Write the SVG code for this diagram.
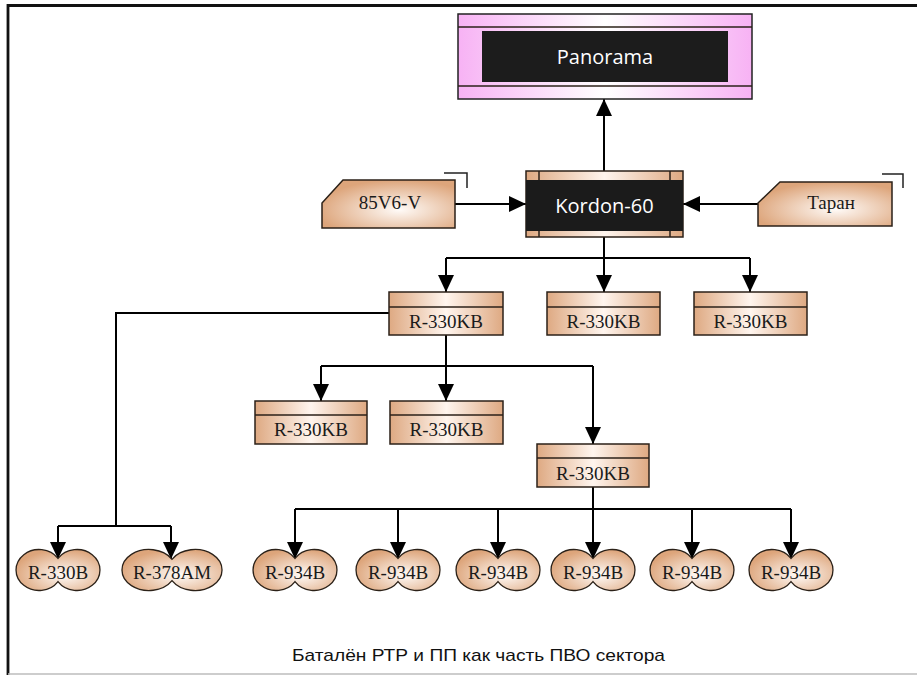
<svg xmlns="http://www.w3.org/2000/svg" width="917" height="675" viewBox="0 0 917 675">
<style>
.lbl{font-family:"Liberation Serif","Times New Roman",serif;font-size:19px;fill:#1a1a1a;text-anchor:middle}
.wlbl{font-family:"Open Sans","Noto Sans",sans-serif;font-size:20px;fill:#ffffff;text-anchor:middle}
.box{fill:url(#tanH);stroke:#2b2118;stroke-width:1.5}
.band{stroke:#2b2118;stroke-width:1.5}
.blob{fill:url(#tanR);stroke:#2b2118;stroke-width:1.3}
.conn{fill:none;stroke:#000;stroke-width:2}
</style>
<defs>
<linearGradient id="tanH" x1="0" y1="0" x2="1" y2="0">
<stop offset="0" stop-color="#dea982"/>
<stop offset="0.5" stop-color="#fff5ee"/>
<stop offset="1" stop-color="#dea982"/>
</linearGradient>
<radialGradient id="tanR" cx="0.58" cy="0.62" r="0.62">
<stop offset="0" stop-color="#fffbf8"/>
<stop offset="1" stop-color="#dda57b"/>
</radialGradient>
<linearGradient id="pinkH" x1="0" y1="0" x2="1" y2="0">
<stop offset="0" stop-color="#f7b2f4"/>
<stop offset="0.5" stop-color="#ffffff"/>
<stop offset="1" stop-color="#f7b2f4"/>
</linearGradient>
<marker id="ah" markerUnits="userSpaceOnUse" markerWidth="18" markerHeight="16" refX="17" refY="8" orient="auto">
<path d="M0,0 L17,8 L0,16 z" fill="#000"/>
</marker>
</defs>
<rect x="0" y="0" width="917" height="675" fill="#ffffff"/>
<g id="frame">
<line x1="7" y1="5.5" x2="917" y2="5.5" stroke="#111" stroke-width="2.8"/>
<line x1="8" y1="4" x2="8" y2="675" stroke="#111" stroke-width="2.8"/>
<line x1="8" y1="674" x2="917" y2="674" stroke="#bdbdbd" stroke-width="1.5"/>
</g>
<g id="connectors">
<path class="conn" d="M604,171 V99" marker-end="url(#ah)"/>
<path class="conn" d="M455,204 H526" marker-end="url(#ah)"/>
<path class="conn" d="M758,204 H683" marker-end="url(#ah)"/>
<path class="conn" d="M604,237 V258 M446,258 H750"/>
<path class="conn" d="M446,258 V292" marker-end="url(#ah)"/>
<path class="conn" d="M604,258 V292" marker-end="url(#ah)"/>
<path class="conn" d="M750,258 V292" marker-end="url(#ah)"/>
<path class="conn" d="M389,313 H116 V526 M58,526 H171"/>
<path class="conn" d="M58,526 V559" marker-end="url(#ah)"/>
<path class="conn" d="M171,526 V559" marker-end="url(#ah)"/>
<path class="conn" d="M446,335 V366 M321,366 H593"/>
<path class="conn" d="M321,366 V401" marker-end="url(#ah)"/>
<path class="conn" d="M446,366 V401" marker-end="url(#ah)"/>
<path class="conn" d="M593,366 V444" marker-end="url(#ah)"/>
<path class="conn" d="M593,487 V509 M295,509 H791"/>
<path class="conn" d="M295,509 V559" marker-end="url(#ah)"/>
<path class="conn" d="M398,509 V559" marker-end="url(#ah)"/>
<path class="conn" d="M498,509 V559" marker-end="url(#ah)"/>
<path class="conn" d="M593,509 V559" marker-end="url(#ah)"/>
<path class="conn" d="M692,509 V559" marker-end="url(#ah)"/>
<path class="conn" d="M791,509 V559" marker-end="url(#ah)"/>
</g>
<g id="panorama">
<rect x="458" y="14" width="294" height="85" fill="url(#pinkH)" stroke="#222" stroke-width="1.5"/>
<line class="band" x1="458" y1="27" x2="752" y2="27"/>
<line class="band" x1="458" y1="86" x2="752" y2="86"/>
<rect x="482" y="31" width="246" height="51" fill="#1c1c1c"/>
<text class="wlbl" x="605" y="64">Panorama</text>
</g>
<g id="kordon">
<rect class="box" x="526" y="171" width="157" height="66"/>
<rect x="526" y="180" width="157" height="51" fill="#1b1b1b"/>
<path class="band" d="M539,171 V180 M670,171 V180 M539,231 V237 M670,231 V237"/>
<text class="wlbl" x="604.5" y="213">Kordon-60</text>
</g>
<g id="n85v6">
<polygon points="343,180 455,180 455,228 322,228 322,203" fill="url(#tanR)" stroke="#2b2118" stroke-width="1.5"/>
<polyline points="444,173 467,173 467,188" fill="none" stroke="#222" stroke-width="1.5"/>
<text class="lbl" x="390" y="209">85V6-V</text>
</g>
<g id="taran">
<polygon points="780,182 892,182 892,226 758,226 758,203" fill="url(#tanR)" stroke="#2b2118" stroke-width="1.5"/>
<polyline points="882,174 903,174 903,188" fill="none" stroke="#222" stroke-width="1.5"/>
<text class="lbl" x="831" y="209">Таран</text>
</g>
<g id="r330kb-1">
<rect class="box" x="389" y="292" width="114" height="43"/>
<line class="band" x1="389" y1="307" x2="503" y2="307"/>
<text class="lbl" x="446" y="328">R-330KB</text>
</g>
<g id="r330kb-2">
<rect class="box" x="547" y="292" width="113" height="43"/>
<line class="band" x1="547" y1="307" x2="660" y2="307"/>
<text class="lbl" x="603.5" y="328">R-330KB</text>
</g>
<g id="r330kb-3">
<rect class="box" x="694" y="292" width="113" height="43"/>
<line class="band" x1="694" y1="307" x2="807" y2="307"/>
<text class="lbl" x="750.5" y="328">R-330KB</text>
</g>
<g id="r330kb-4">
<rect class="box" x="255" y="401" width="112" height="43"/>
<line class="band" x1="255" y1="415" x2="367" y2="415"/>
<text class="lbl" x="311" y="436">R-330KB</text>
</g>
<g id="r330kb-5">
<rect class="box" x="390" y="401" width="113" height="43"/>
<line class="band" x1="390" y1="415" x2="503" y2="415"/>
<text class="lbl" x="446.5" y="436">R-330KB</text>
</g>
<g id="r330kb-6">
<rect class="box" x="537" y="444" width="112" height="43"/>
<line class="band" x1="537" y1="458" x2="649" y2="458"/>
<text class="lbl" x="593" y="480">R-330KB</text>
</g>
<g id="r330b">
<path class="blob" d="M58,558.4 A23,20.5 0 1 0 58,581.6 A23,20.5 0 1 0 58,558.4 Z"/>
<text class="lbl" x="58" y="579">R-330B</text>
</g>
<g id="r378am">
<path class="blob" d="M172,559.3 A27,20.5 0 1 0 172,580.7 A27,20.5 0 1 0 172,559.3 Z"/>
<text class="lbl" x="172" y="579">R-378AM</text>
</g>
<g id="r934b-1">
<path class="blob" d="M295,558.4 A23,20.5 0 1 0 295,581.6 A23,20.5 0 1 0 295,558.4 Z"/>
<text class="lbl" x="295" y="579">R-934B</text>
</g>
<g id="r934b-2">
<path class="blob" d="M398,558.4 A23,20.5 0 1 0 398,581.6 A23,20.5 0 1 0 398,558.4 Z"/>
<text class="lbl" x="398" y="579">R-934B</text>
</g>
<g id="r934b-3">
<path class="blob" d="M498,558.4 A23,20.5 0 1 0 498,581.6 A23,20.5 0 1 0 498,558.4 Z"/>
<text class="lbl" x="498" y="579">R-934B</text>
</g>
<g id="r934b-4">
<path class="blob" d="M593,558.4 A23,20.5 0 1 0 593,581.6 A23,20.5 0 1 0 593,558.4 Z"/>
<text class="lbl" x="593" y="579">R-934B</text>
</g>
<g id="r934b-5">
<path class="blob" d="M692,558.4 A23,20.5 0 1 0 692,581.6 A23,20.5 0 1 0 692,558.4 Z"/>
<text class="lbl" x="692" y="579">R-934B</text>
</g>
<g id="r934b-6">
<path class="blob" d="M791,558.4 A23,20.5 0 1 0 791,581.6 A23,20.5 0 1 0 791,558.4 Z"/>
<text class="lbl" x="791" y="579">R-934B</text>
</g>
<text x="478.5" y="661" font-family="'Liberation Sans',Arial,sans-serif" font-size="17" textLength="373" lengthAdjust="spacingAndGlyphs" fill="#111" text-anchor="middle">Баталён РТР и ПП как часть ПВО сектора</text>
</svg>
